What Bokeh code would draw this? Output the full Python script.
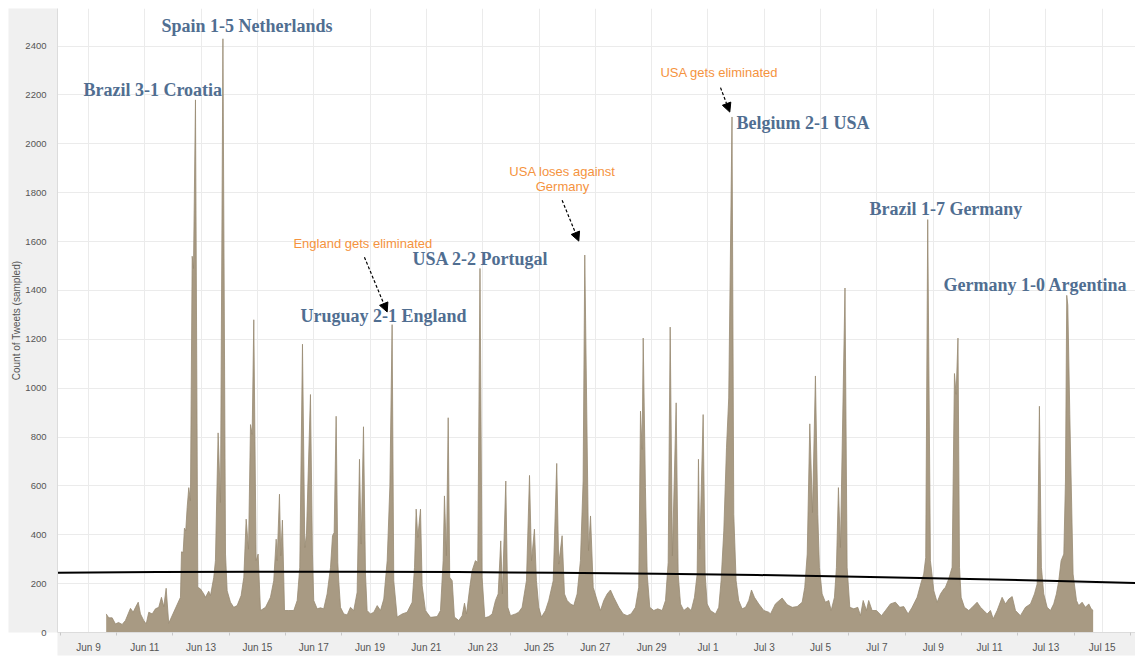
from bokeh.plotting import figure
from bokeh.models import Range1d, FixedTicker, ColumnDataSource, Arrow, NormalHead
from bokeh.core.properties import value
from bokeh.embed import file_html
from bokeh.resources import INLINE

# ---------------- data (hours since 2014-06-09 00:00, sampled tweet counts) ----------------
hours = [
    15.1, 17.3, 20.2, 23.0, 25.6, 28.7, 31.5, 35.8, 38.1, 40.1,
    42.4, 44.3, 47.1, 49.2, 51.4, 54.3, 57.1, 59.9, 62.2, 64.2,
    66.2, 68.4, 78.4, 79.3, 80.7, 81.8, 82.9, 84.1, 85.5, 86.9,
    88.4, 89.5, 91.2, 93.2, 95.5, 98.3, 99.7, 102.5, 104.0, 106.8,
    108.2, 110.5, 112.5, 114.6, 116.8, 118.2, 121.0, 123.8, 126.7, 130.1,
    132.4, 134.4, 136.4, 138.1, 139.5, 140.9, 142.9, 144.6, 146.6, 150.9,
    155.1, 157.9, 160.0, 160.8, 162.8, 163.9, 165.3, 167.1, 170.7, 175.0,
    177.9, 180.1, 182.4, 184.4, 185.8, 189.2, 190.9, 192.0, 194.9, 197.7,
    200.5, 203.4, 206.3, 208.0, 209.4, 211.1, 212.5, 213.3, 214.8, 217.6,
    220.5, 223.3, 226.1, 229.0, 231.0, 232.4, 234.4, 236.1, 237.5, 240.3,
    243.2, 246.1, 248.9, 251.7, 254.6, 256.9, 258.8, 260.2, 263.1, 267.4,
    271.6, 275.9, 277.9, 279.3, 280.7, 283.0, 284.4, 287.2, 291.5, 297.2,
    300.0, 302.3, 303.4, 305.1, 306.6, 307.9, 310.0, 311.9, 315.6, 318.5,
    320.5, 322.2, 325.0, 327.0, 329.8, 331.8, 333.7, 335.5, 337.8, 341.2,
    344.1, 346.9, 349.2, 351.4, 352.8, 355.7, 357.4, 359.7, 363.9, 366.7,
    369.6, 373.3, 375.9, 377.6, 380.1, 381.8, 383.8, 386.1, 389.5, 392.3,
    396.1, 399.1, 400.8, 403.7, 405.7, 408.0, 410.8, 413.6, 416.5, 419.3,
    421.6, 423.0, 426.2, 427.9, 430.2, 433.6, 436.4, 439.2, 442.1, 444.9,
    447.7, 452.0, 455.7, 459.1, 462.5, 466.2, 469.0, 470.5, 471.9, 472.8,
    474.7, 476.2, 478.4, 481.8, 485.2, 489.0, 491.8, 494.1, 495.8, 497.7,
    500.9, 502.6, 504.6, 507.4, 510.8, 513.7, 516.5, 518.8, 519.9, 521.0,
    523.9, 525.6, 527.3, 530.1, 534.4, 537.2, 539.2, 541.5, 543.8, 545.7,
    548.5, 550.0, 552.0, 554.2, 557.1, 560.0, 562.8, 565.1, 567.6, 571.3,
    575.6, 579.8, 581.3, 585.5, 591.2, 595.5, 599.8, 604.0, 608.3, 610.5,
    612.6, 614.8, 617.1, 619.6, 621.6, 623.0, 625.3, 628.1, 631.0, 633.0,
    635.8, 637.5, 639.2, 640.9, 644.8, 646.6, 648.9, 652.3, 655.7, 658.0,
    660.3, 663.1, 665.0, 667.9, 671.6, 675.9, 679.3, 683.5, 687.8, 691.5,
    694.9, 698.6, 702.0, 706.3, 709.7, 711.9, 713.6, 715.3, 717.6, 720.5,
    723.3, 726.2, 729.0, 730.4, 733.2, 736.1, 738.1, 739.5, 741.1, 742.4,
    743.8, 746.6, 750.3, 753.2, 757.4, 760.3, 763.1, 766.0, 768.8, 771.1,
    774.5, 778.7, 781.6, 784.4, 787.3, 790.1, 794.3, 798.6, 802.9, 806.3,
    808.6, 810.5, 812.2, 814.2, 817.1, 819.9, 822.7, 825.0, 827.0, 829.0,
    831.3, 832.7, 833.8, 834.7, 836.4, 839.2, 842.1, 844.0, 846.9, 849.7,
    852.6, 854.6, 856.3,
]
counts = [
    76, 60, 60, 35, 41, 33, 49, 99, 83, 103,
    124, 76, 49, 35, 83, 76, 97, 103, 144, 106,
    181, 38, 144, 330, 328, 427, 416, 511, 593, 539,
    1540, 1490, 2180, 185, 178, 158, 144, 169, 151, 226,
    294, 817, 532, 2430, 321, 171, 124, 103, 110, 151,
    226, 464, 341, 851, 811, 1280, 294, 321, 90, 103,
    144, 212, 382, 294, 566, 314, 460, 90, 90, 90,
    131, 267, 1180, 348, 403, 974, 321, 131, 97, 101,
    97, 158, 267, 396, 409, 885, 287, 212, 103, 76,
    72, 103, 90, 165, 709, 362, 842, 239, 90, 76,
    83, 110, 90, 137, 294, 600, 1260, 212, 63, 76,
    83, 124, 267, 505, 389, 505, 192, 90, 62, 65,
    90, 294, 559, 314, 879, 226, 212, 63, 49, 69,
    120, 76, 185, 253, 294, 287, 1490, 226, 60, 65,
    76, 131, 158, 375, 158, 620, 103, 69, 76, 83,
    103, 212, 643, 294, 423, 212, 103, 63, 90, 131,
    212, 692, 280, 396, 158, 131, 117, 110, 158, 294,
    620, 1545, 335, 477, 185, 131, 90, 131, 158, 174,
    144, 103, 76, 69, 76, 103, 185, 906, 749, 1205,
    593, 239, 103, 90, 97, 90, 131, 287, 1250, 314,
    940, 239, 117, 90, 103, 90, 144, 239, 709, 341,
    892, 239, 117, 90, 76, 103, 212, 416, 756, 960,
    2110, 484, 212, 131, 97, 103, 131, 174, 144, 117,
    90, 83, 76, 117, 141, 114, 103, 106, 124, 185,
    321, 854, 491, 1050, 484, 267, 158, 124, 131, 90,
    144, 267, 593, 348, 1410, 267, 103, 97, 103, 69,
    131, 90, 131, 90, 90, 69, 90, 117, 124, 103,
    106, 76, 103, 144, 205, 239, 307, 1690, 294, 171,
    124, 158, 178, 185, 219, 267, 1060, 975, 1205, 267,
    144, 103, 90, 103, 124, 103, 90, 76, 90, 56,
    90, 144, 117, 137, 147, 90, 69, 103, 117, 158,
    199, 926, 267, 158, 103, 90, 117, 158, 212, 294,
    321, 620, 1380, 1340, 892, 239, 131, 110, 124, 103,
    117, 97, 90,
]

# polynomial trend line
trend_hours = [-26.4, 58.8, 144.0, 229.3, 314.5, 399.7, 485.0, 570.2, 655.4, 740.6, 825.9, 892.4]
trend_values = [245.0, 247.6, 248.8, 248.7, 247.3, 244.6, 240.5, 235.2, 228.5, 220.5, 211.2, 203.0]

# axis ticks
x_tick_labels = ["Jun 9", "Jun 11", "Jun 13", "Jun 15", "Jun 17", "Jun 19", "Jun 21",
                 "Jun 23", "Jun 25", "Jun 27", "Jun 29", "Jul 1", "Jul 3", "Jul 5",
                 "Jul 7", "Jul 9", "Jul 11", "Jul 13", "Jul 15"]
x_ticks = [48 * i for i in range(len(x_tick_labels))]
x_minor = [48 * i - 24 for i in range(len(x_tick_labels) + 1)]
y_ticks = [0, 200, 400, 600, 800, 1000, 1200, 1400, 1600, 1800, 2000, 2200, 2400]

# match annotations (hour, count, text)
match_hours = [62.2, -4.3, 180.7, 276.1, 552.3, 665.6, 728.7]
match_counts = [2481, 2222, 1294, 1528, 2087, 1735, 1421]
match_texts = ["Spain 1-5 Netherlands", "Brazil 3-1 Croatia", "Uruguay 2-1 England",
               "USA 2-2 Portugal", "Belgium 2-1 USA", "Brazil 1-7 Germany",
               "Germany 1-0 Argentina"]

note_hours = [174.7, 404.0, 404.0, 487.5]
note_counts = [1594, 1887, 1827, 2294]
note_texts = ["England gets eliminated", "USA loses against", "Germany", "USA gets eliminated"]
note_align = ["left", "center", "center", "left"]

arrow_start_h = [235.2, 403.7, 538.7]
arrow_start_c = [1536, 1769, 2230]
arrow_end_h = [254.6, 417.9, 546.6]
arrow_end_c = [1312, 1602, 2130]

# ---------------- figure ----------------
BAND = "#f0f0f0"
TXT = "#555555"

p = figure(width=1127, height=649, output_backend="svg", toolbar_location=None,
           x_range=Range1d(-26.4, 892.4), y_range=Range1d(0, 2554),
           min_border_left=49, min_border_right=0, min_border_top=0, min_border_bottom=25)
p.margin = (8, 0, 0, 8)
p.outline_line_color = None
p.border_fill_color = "white"
p.background_fill_color = "white"

# axes
p.xaxis.ticker = FixedTicker(ticks=x_ticks, minor_ticks=x_minor)
p.xaxis.major_label_overrides = {t: lab for t, lab in zip(x_ticks, x_tick_labels)}
p.xaxis.major_label_text_font = "Liberation Sans"
p.xaxis.major_label_text_font_size = "10px"
p.xaxis.major_label_text_color = TXT
p.xaxis.major_label_standoff = 6
p.xaxis.major_tick_in = 0
p.xaxis.major_tick_out = 0
p.xaxis.minor_tick_in = 0
p.xaxis.minor_tick_out = 3
p.xaxis.minor_tick_line_color = "#c8c8c8"
p.xaxis.axis_line_color = "#dcdcdc"
p.xaxis.background_fill_color = BAND

p.yaxis.ticker = FixedTicker(ticks=y_ticks)
p.yaxis.major_label_text_font = "Liberation Sans"
p.yaxis.major_label_text_font_size = "9.5px"
p.yaxis.major_label_text_color = TXT
p.yaxis.major_label_standoff = 11
p.yaxis.major_tick_in = 0
p.yaxis.major_tick_out = 0
p.yaxis.minor_tick_line_color = None
p.yaxis.axis_line_color = "#dcdcdc"
p.yaxis.axis_label = "Count of Tweets (sampled)"
p.yaxis.axis_label_text_font = "Liberation Sans"
p.yaxis.axis_label_text_font_size = "10px"
p.yaxis.axis_label_text_font_style = "normal"
p.yaxis.axis_label_text_color = TXT
p.yaxis.axis_label_standoff = 0
p.yaxis.background_fill_color = BAND

p.xgrid.ticker = FixedTicker(ticks=x_ticks)
p.xgrid.grid_line_color = "#ebebeb"
p.ygrid.grid_line_color = "#ebebeb"

# area
src = ColumnDataSource(dict(h=hours, c=counts))
p.varea(x="h", y1=0, y2="c", source=src, fill_color="#a89a83", fill_alpha=1.0)
p.line(x="h", y="c", source=src, line_color="#988a72", line_width=0.8)

# trend line
p.line(trend_hours, trend_values, line_color="black", line_width=2)

# match labels
msrc = ColumnDataSource(dict(h=match_hours, c=match_counts, t=match_texts))
p.text(x="h", y="c", text="t", source=msrc, text_font=value("Liberation Serif"),
       text_font_style="bold", text_font_size="18px", text_color="#506e91",
       text_align="left", text_baseline="middle")

# orange notes
nsrc = ColumnDataSource(dict(h=note_hours, c=note_counts, t=note_texts, a=note_align))
p.text(x="h", y="c", text="t", source=nsrc, text_font=value("Liberation Sans"),
       text_font_size="13px", text_color="#f5933e", text_align="a",
       text_baseline="middle")

for xs, ys, xe, ye in zip(arrow_start_h, arrow_start_c, arrow_end_h, arrow_end_c):
    p.add_layout(Arrow(x_start=xs, y_start=ys, x_end=xe, y_end=ye,
                       line_color="black", line_width=1.2, line_dash="3 2",
                       end=NormalHead(size=9, fill_color="black", line_color="black",
                                      line_width=1)))

open("out.html", "w").write(file_html(p, INLINE))
